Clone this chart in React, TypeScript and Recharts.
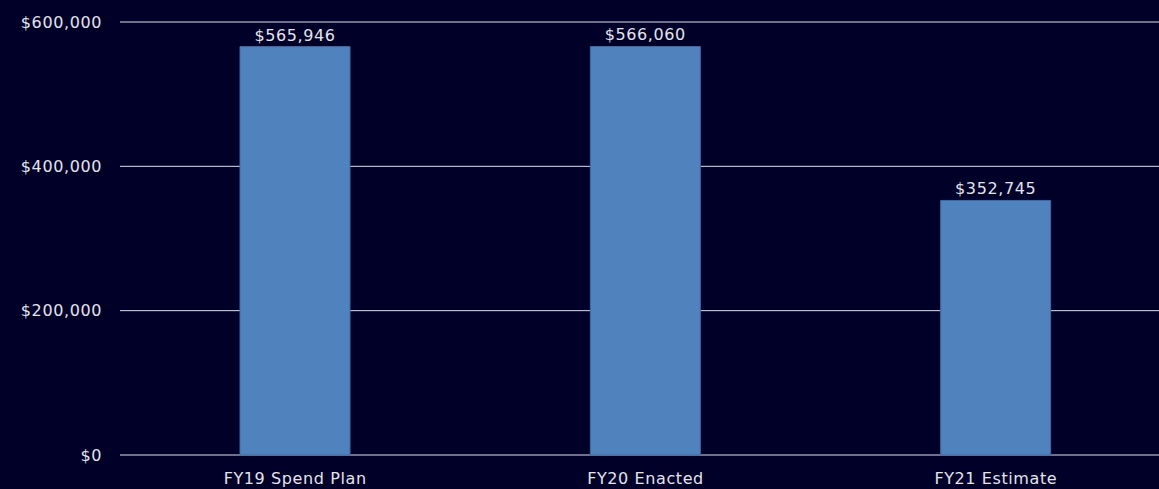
import { BarChart, Bar, XAxis, YAxis, CartesianGrid, LabelList } from "recharts";

const categories = ["FY19 Spend Plan", "FY20 Enacted", "FY21 Estimate"];
const spending = [565946, 566060, 352745];
const yTicks = [0, 200000, 400000, 600000];

const data = categories.map((name, i) => ({ name, value: spending[i] }));

const money = (v: number) => "$" + Number(v).toLocaleString("en-US");

const textColor = "#e4e4ec";
const font = "'DejaVu Sans', sans-serif";

export default function App() {
  return (
    <div
      style={{
        position: "absolute",
        top: 0,
        left: 0,
        width: 1159,
        height: 489,
        overflow: "hidden",
        background: "#000028",
        fontFamily: font,
        letterSpacing: "0.6px",
      }}
    >
      <BarChart
        width={1171}
        height={489}
        data={data}
        margin={{ top: 22, right: 0, bottom: 0, left: 0 }}
      >
        <CartesianGrid vertical={false} stroke="#e0e0e8" strokeWidth={1} />
        <XAxis
          dataKey="name"
          height={34}
          axisLine={false}
          tickLine={false}
          tickSize={0}
          tickMargin={18}
          tick={{ fill: textColor, fontSize: 16, fontFamily: font }}
        />
        <YAxis
          width={120}
          domain={[0, 600000]}
          ticks={yTicks}
          axisLine={false}
          tickLine={false}
          tickSize={0}
          tickMargin={18}
          tickFormatter={money}
          tick={{ fill: textColor, fontSize: 16, fontFamily: font }}
        />
        <Bar
          dataKey="value"
          fill="#5082be"
          stroke="#3f6aa2"
          barSize={110}
          isAnimationActive={false}
        >
          <LabelList
            dataKey="value"
            position="top"
            offset={6}
            formatter={(v: any) => money(v)}
            fill={textColor}
            fontSize={16}
            fontFamily={font}
          />
        </Bar>
      </BarChart>
    </div>
  );
}
